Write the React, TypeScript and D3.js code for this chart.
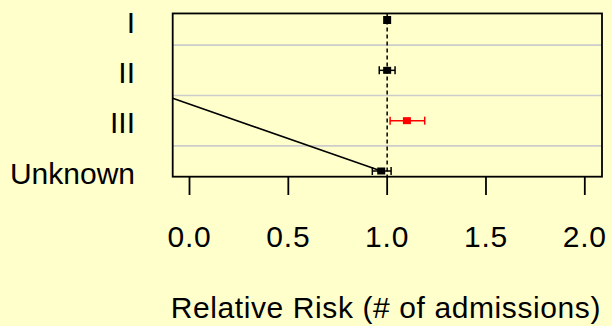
import React from "react";
import * as d3 from "d3";

const categories = ["I", "II", "III", "Unknown"];
const estimates = [1.0, 1.0, 1.1, 0.97];
const lower = [1.0, 0.96, 1.015, 0.925];
const upper = [1.0, 1.04, 1.19, 1.02];
const pointColors = ["#000000", "#000000", "#FF0000", "#000000"];
const xTicks = [0, 0.5, 1.0, 1.5, 2.0];
const xTickLabels = ["0.0", "0.5", "1.0", "1.5", "2.0"];
// stray line in data units: [x, row index]
const strayLine: [number, number][] = [[-0.085, 1.556], [0.97, 3]];
const refValue = 1.0;
const xTitle = "Relative Risk (# of admissions)";

const W = 612;
const H = 326;
const BG = "#FFFFCC";
const FONT = "'Liberation Sans', Arial, Helvetica, sans-serif";

export default function App() {
  const x = d3.scaleLinear().domain([-0.085, 2.087]).range([172.7, 602]);
  const y = d3.scaleLinear().domain([0, 3]).range([20, 171]);
  const boxTop = y(-0.13);
  const boxBottom = y(3.113);
  const boxLeft = x.range()[0];
  const boxRight = x.range()[1];
  const line = d3
    .line<[number, number]>()
    .x((d) => x(d[0]))
    .y((d) => y(d[1]));
  const gridRows = d3.range(categories.length - 1).map((i) => i + 0.5);
  const sqW = 8;
  const sqH = 7;
  const cap = 4;

  return (
    <svg
      width={W}
      height={H}
      style={{ position: "absolute", left: 0, top: 0, background: BG }}
    >
      <rect x={0} y={0} width={W} height={H} fill={BG} />
      <defs>
        <clipPath id="plotclip">
          <rect x={boxLeft} y={boxTop} width={boxRight - boxLeft} height={boxBottom - boxTop} />
        </clipPath>
      </defs>
      {gridRows.map((r) => (
        <line
          key={r}
          x1={boxLeft}
          x2={boxRight}
          y1={y(r)}
          y2={y(r)}
          stroke="#CCCCCC"
          strokeWidth={1.6}
        />
      ))}
      <line
        x1={x(refValue)}
        x2={x(refValue)}
        y1={boxTop}
        y2={boxBottom}
        stroke="#000"
        strokeWidth={1.5}
        strokeDasharray="4,3"
      />
      <path
        d={line(strayLine) || ""}
        fill="none"
        stroke="#000"
        strokeWidth={1.5}
        clipPath="url(#plotclip)"
      />
      {categories.map((c, i) => {
        const cy = y(i);
        const col = pointColors[i];
        return (
          <g key={c}>
            {upper[i] > lower[i] && (
              <g stroke={col} strokeWidth={1.5}>
                <line x1={x(lower[i])} x2={x(upper[i])} y1={cy} y2={cy} />
                <line x1={x(lower[i])} x2={x(lower[i])} y1={cy - cap} y2={cy + cap} />
                <line x1={x(upper[i])} x2={x(upper[i])} y1={cy - cap} y2={cy + cap} />
              </g>
            )}
            <rect
              x={x(estimates[i]) - sqW / 2}
              y={cy - (i === 0 ? sqW : sqH) / 2}
              width={sqW}
              height={i === 0 ? sqW : sqH}
              fill={col}
            />
            <text
              x={135}
              y={cy + 12.5}
              textAnchor="end"
              fontFamily={FONT}
              fontSize={30}
              fill="#000"
            >
              {c}
            </text>
          </g>
        );
      })}
      <rect
        x={boxLeft}
        y={boxTop}
        width={boxRight - boxLeft}
        height={boxBottom - boxTop}
        fill="none"
        stroke="#000"
        strokeWidth={1.8}
      />
      {xTicks.map((t, i) => (
        <g key={t}>
          <line x1={x(t)} x2={x(t)} y1={boxBottom} y2={195} stroke="#000" strokeWidth={1.8} />
          <text
            x={x(t)}
            y={247}
            textAnchor="middle"
            fontFamily={FONT}
            fontSize={30}
            letterSpacing={0.8}
            fill="#000"
          >
            {xTickLabels[i]}
          </text>
        </g>
      ))}
      <text
        x={(boxLeft + boxRight) / 2 - 1.5}
        y={318}
        textAnchor="middle"
        fontFamily={FONT}
        fontSize={30}
        letterSpacing={0.6}
        fill="#000"
      >
        {xTitle}
      </text>
    </svg>
  );
}
